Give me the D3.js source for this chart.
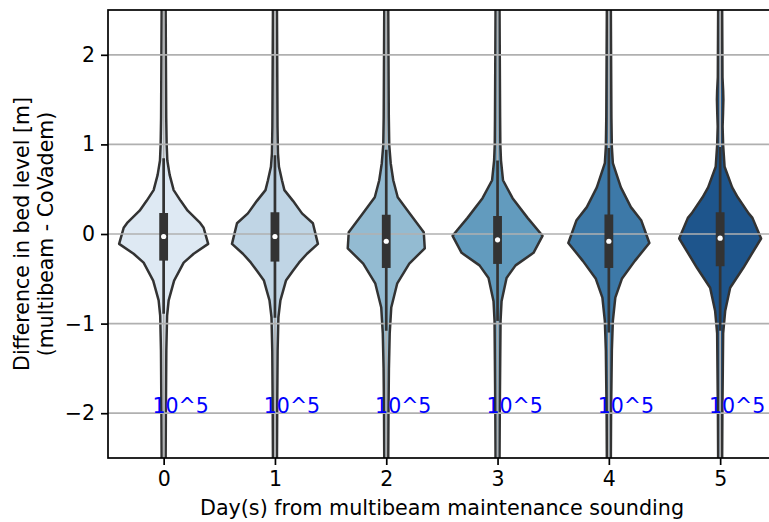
<!DOCTYPE html>
<meta charset="utf-8">
<body style="margin:0">
<script src="https://d3js.org/d3.v7.min.js"></script>
<script>

// categories and tick labels
var days = ["0", "1", "2", "3", "4", "5"];
var yTicks = [-2, -1, 0, 1, 2];
var countLabel = "10^5";

// fill colours (Blues, desaturated)
var fills = ["#dee9f3", "#c0d5e5", "#93bbd2", "#629bbe", "#3d79a8", "#1e558c"];

// violin outlines: [value, half width in category units]
var violin0 = [[3.0,0.016],[2.0,0.020],[1.3,0.023],[1.0,0.027],[0.82,0.033],[0.66,0.054],[0.49,0.090],[0.37,0.153],[0.26,0.216],[0.13,0.323],[0.07,0.359],[-0.11,0.400],[-0.22,0.270],[-0.32,0.180],[-0.52,0.094],[-0.74,0.045],[-0.91,0.031],[-1.3,0.024],[-2.0,0.020],[-3.0,0.016]];
var violin1 = [[3.0,0.016],[2.0,0.020],[1.2,0.023],[0.9,0.027],[0.75,0.036],[0.6,0.063],[0.49,0.085],[0.37,0.162],[0.23,0.243],[0.12,0.341],[-0.11,0.386],[-0.22,0.288],[-0.32,0.216],[-0.41,0.162],[-0.52,0.099],[-0.64,0.072],[-0.74,0.049],[-0.93,0.031],[-1.3,0.024],[-2.0,0.020],[-3.0,0.016]];
var violin2 = [[3.0,0.016],[2.0,0.020],[1.3,0.023],[0.99,0.027],[0.79,0.040],[0.6,0.063],[0.41,0.103],[0.23,0.211],[0.02,0.337],[-0.16,0.346],[-0.33,0.207],[-0.55,0.099],[-0.82,0.045],[-1.11,0.031],[-1.5,0.024],[-2.0,0.020],[-3.0,0.016]];
var violin3 = [[3.0,0.016],[2.0,0.020],[1.3,0.023],[1.0,0.025],[0.82,0.031],[0.6,0.049],[0.4,0.135],[0.18,0.270],[-0.02,0.404],[-0.21,0.323],[-0.35,0.162],[-0.49,0.081],[-0.75,0.036],[-0.97,0.027],[-1.4,0.024],[-2.0,0.020],[-3.0,0.016]];
var violin4 = [[3.0,0.016],[2.0,0.020],[1.3,0.023],[0.97,0.027],[0.79,0.036],[0.52,0.108],[0.30,0.198],[0.15,0.292],[-0.1,0.364],[-0.3,0.234],[-0.5,0.117],[-0.71,0.058],[-0.97,0.036],[-1.3,0.027],[-2.0,0.020],[-3.0,0.016]];
var violin5 = [[3.0,0.016],[2.0,0.020],[1.75,0.021],[1.6,0.027],[1.5,0.029],[1.35,0.026],[1.2,0.022],[0.99,0.027],[0.75,0.040],[0.52,0.108],[0.41,0.158],[0.23,0.256],[0.18,0.290],[-0.05,0.368],[-0.38,0.207],[-0.6,0.090],[-0.86,0.045],[-1.11,0.027],[-1.5,0.024],[-2.0,0.020],[-3.0,0.016]];
var violins = [violin0, violin1, violin2, violin3, violin4, violin5];

// inner box statistics
var q1s = [-0.297, -0.308, -0.379, -0.334, -0.379, -0.36];
var medians = [-0.028, -0.028, -0.081, -0.065, -0.081, -0.047];
var q3s = [0.233, 0.244, 0.215, 0.20, 0.218, 0.244];
var whiskerLow = [-0.89, -0.935, -1.08, -0.97, -1.1, -1.08];
var whiskerHigh = [0.846, 0.88, 0.94, 0.82, 0.96, 0.97];

var margin = {top: 10, left: 108},
    width = 667.8,
    height = 448;

var x = d3.scaleLinear().domain([-0.5, 5.5]).range([0, width]);
var y = d3.scaleLinear().domain([-2.5, 2.5]).range([height, 0]);

var svg = d3.select("body").append("svg")
    .attr("width", 769)
    .attr("height", 522)
    .style("font-family", "'DejaVu Sans'");

var g = svg.append("g")
    .attr("transform", "translate(" + margin.left + "," + margin.top + ")");

g.append("clipPath").attr("id", "plot")
  .append("rect").attr("width", width).attr("height", height);

var gray = "#333333";
var plot = g.append("g").attr("clip-path", "url(#plot)");

// violins
var area = d3.area()
    .curve(d3.curveLinear);

plot.selectAll(".violin")
    .data(violins)
    .enter().append("path")
    .attr("class", "violin")
    .attr("d", function(d, i) {
        return area
            .y(function(p) { return y(p[0]); })
            .x0(function(p) { return x(i - p[1]); })
            .x1(function(p) { return x(i + p[1]); })(d);
    })
    .style("fill", function(d, i) { return fills[i]; })
    .style("stroke", gray)
    .style("stroke-width", 2.5)
    .style("stroke-linejoin", "round");

// grid, above the violins like matplotlib
plot.selectAll(".xgrid")
    .data(days)
    .enter().append("line")
    .attr("x1", function(d, i) { return x(i); })
    .attr("x2", function(d, i) { return x(i); })
    .attr("y1", 0).attr("y2", height)
    .style("stroke", "#b0b0b0")
    .style("stroke-width", 1.7);

plot.selectAll(".ygrid")
    .data(yTicks)
    .enter().append("line")
    .attr("x1", 0).attr("x2", width)
    .attr("y1", function(d) { return y(d); })
    .attr("y2", function(d) { return y(d); })
    .style("stroke", "#b0b0b0")
    .style("stroke-width", 1.7);

// whiskers, boxes, medians
plot.selectAll(".whisker")
    .data(days)
    .enter().append("line")
    .attr("x1", function(d, i) { return x(i); })
    .attr("x2", function(d, i) { return x(i); })
    .attr("y1", function(d, i) { return y(whiskerLow[i]); })
    .attr("y2", function(d, i) { return y(whiskerHigh[i]); })
    .style("stroke", gray)
    .style("stroke-width", 2.7);

plot.selectAll(".box")
    .data(days)
    .enter().append("line")
    .attr("x1", function(d, i) { return x(i); })
    .attr("x2", function(d, i) { return x(i); })
    .attr("y1", function(d, i) { return y(q1s[i]); })
    .attr("y2", function(d, i) { return y(q3s[i]); })
    .style("stroke", gray)
    .style("stroke-width", 8.8);

plot.selectAll(".median")
    .data(days)
    .enter().append("circle")
    .attr("cx", function(d, i) { return x(i); })
    .attr("cy", function(d, i) { return y(medians[i]); })
    .attr("r", 2.6)
    .style("fill", "white");

// count labels
g.selectAll(".count")
    .data(days)
    .enter().append("text")
    .attr("x", function(d, i) { return x(i - 0.1); })
    .attr("y", y(-2))
    .style("font-size", "20.5px")
    .style("fill", "blue")
    .text(countLabel);

// axes
function minus(d) { return d < 0 ? "\u2212" + Math.abs(d) : d; }

var yAxis = g.append("g")
    .call(d3.axisLeft(y).tickValues(yTicks).tickFormat(minus).tickSize(7).tickPadding(6));

var xAxis = g.append("g")
    .attr("transform", "translate(0," + height + ")")
    .call(d3.axisBottom(x).tickValues(d3.range(days.length))
        .tickFormat(function(i) { return days[i]; }).tickSize(7).tickPadding(6));

[yAxis, xAxis].forEach(function(a) {
    a.select(".domain").remove();
    a.selectAll("line").style("stroke", "black").style("stroke-width", 1.7);
    a.selectAll("text").style("font-size", "20.5px").style("fill", "black")
        .style("font-family", "'DejaVu Sans'");
});

// frame
g.append("rect")
    .attr("width", width).attr("height", height)
    .style("fill", "none")
    .style("stroke", "black")
    .style("stroke-width", 1.7);

// axis labels
g.append("text")
    .attr("x", 442 - margin.left)
    .attr("y", 505)
    .style("text-anchor", "middle")
    .style("font-size", "20.7px")
    .text("Day(s) from multibeam maintenance sounding");

var ylab = svg.append("text")
    .attr("transform", "translate(0," + (margin.top + height / 2) + ") rotate(-90)")
    .style("text-anchor", "middle")
    .style("font-size", "20.5px");
ylab.append("tspan").attr("x", 0).attr("y", 29).text("Difference in bed level [m]");
ylab.append("tspan").attr("x", 0).attr("y", 53).text("(multibeam - CoVadem)");

</script>
</body>
</html>
